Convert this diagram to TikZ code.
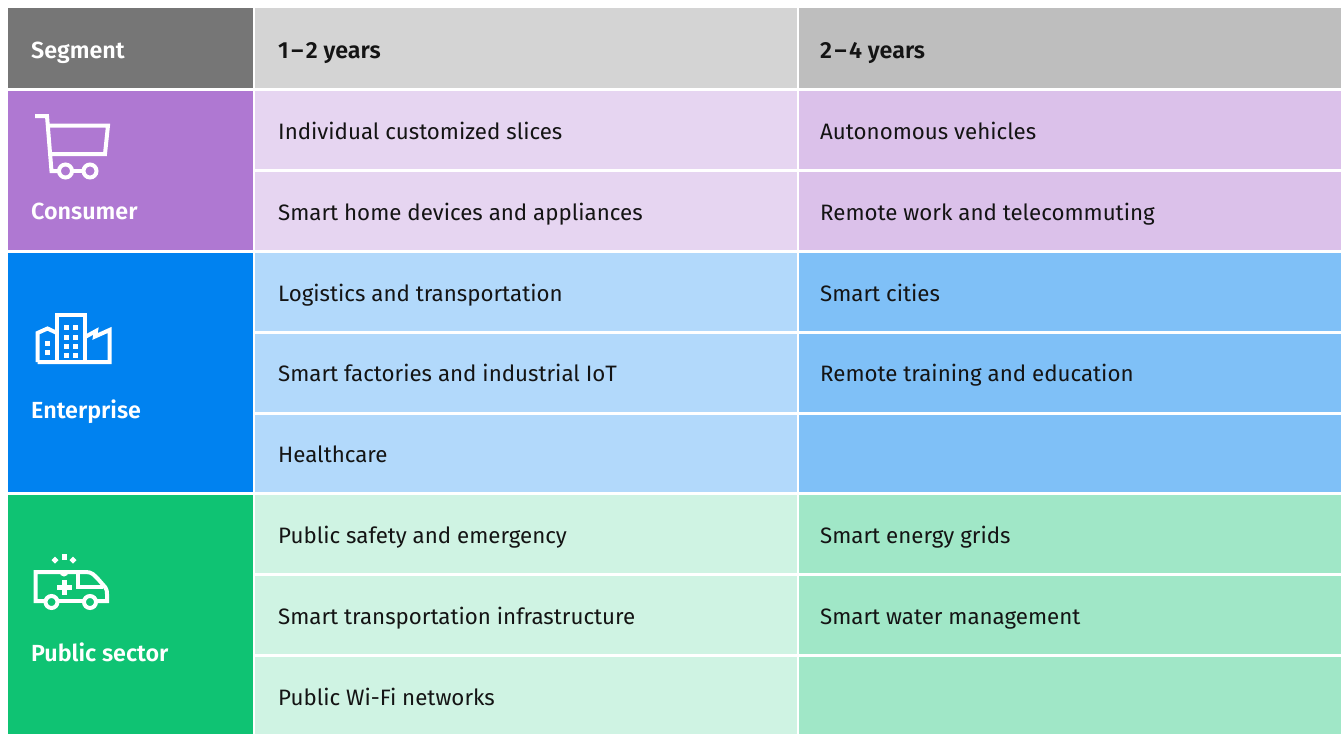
\documentclass[tikz,border=0pt]{standalone}
\usepackage{fontspec}
\setmainfont{Fira Sans}[BoldFont={Fira Sans SemiBold}]
\definecolor{hs}{HTML}{767676}\definecolor{ha}{HTML}{D4D4D4}\definecolor{hb}{HTML}{BEBEBE}
\definecolor{cs}{HTML}{AF78D2}\definecolor{ca}{HTML}{E6D5F1}\definecolor{cb}{HTML}{DBC1EA}
\definecolor{es}{HTML}{0082F0}\definecolor{ea}{HTML}{B2D9FB}\definecolor{eb}{HTML}{7FC0F7}
\definecolor{ps}{HTML}{0FC373}\definecolor{pa}{HTML}{CFF3E3}\definecolor{pb}{HTML}{A0E7C7}
\tikzset{
 x=1pt,y=-1pt,
 lab/.style={anchor=base west,inner sep=0pt,font=\fontsize{22.3}{26}\selectfont,text=black!92},
 headlab/.style={anchor=base west,inner sep=0pt,font=\fontsize{23.3}{26}\selectfont\bfseries,text=black!92},
 seglab/.style={anchor=base west,inner sep=0pt,font=\fontsize{23.3}{26}\selectfont\bfseries,text=white},
 icon/.style={draw=white,line width=4pt,line join=miter},
}
\newcommand{\cell}[6]{\fill[#6] (#2,#3) rectangle (#4,#5) coordinate (#1);}
\begin{document}
\begin{tikzpicture}
\useasboundingbox (0,0) rectangle (1341,734);
\fill[white] (0,0) rectangle (1341,734);
% header
\cell{h0}{8}{8}{253}{88}{hs}
\cell{h1}{255}{8}{797}{88}{ha}
\cell{h2}{799}{8}{1341}{88}{hb}
% segments
\cell{s1}{8}{91}{253}{250}{cs}
\cell{s2}{8}{253}{253}{492}{es}
\cell{s3}{8}{495}{253}{734}{ps}
% consumer
\cell{a1}{255}{91}{797}{169}{ca}
\cell{a2}{255}{172}{797}{250}{ca}
\cell{b1}{799}{91}{1341}{169}{cb}
\cell{b2}{799}{172}{1341}{250}{cb}
% enterprise
\cell{a3}{255}{253}{797}{331}{ea}
\cell{a4}{255}{334}{797}{412}{ea}
\cell{a5}{255}{415}{797}{492}{ea}
\cell{b3}{799}{253}{1341}{331}{eb}
\cell{b4}{799}{334}{1341}{412}{eb}
\cell{b5}{799}{415}{1341}{492}{eb}
% public
\cell{a6}{255}{495}{797}{573}{pa}
\cell{a7}{255}{576}{797}{654}{pa}
\cell{a8}{255}{657}{797}{734}{pa}
\cell{b6}{799}{495}{1341}{573}{pb}
\cell{b7}{799}{576}{1341}{654}{pb}
\cell{b8}{799}{657}{1341}{734}{pb}
% labels
\node[seglab] (t0) at (31,58) {Segment};
\node[headlab] (t1) at (278,58) {1\kern2.5pt–\kern2.5pt2 years};
\node[headlab] (t2) at (820,58) {2\kern2.5pt–\kern2.5pt4 years};
\node[seglab] (t3) at (31,219) {Consumer};
\node[seglab] (t4) at (31,418) {Enterprise};
\node[seglab] (t5) at (31,661) {Public sector};
\node[lab] (l1) at (278,139) {Individual customized slices};
\node[lab] (l2) at (278,220) {Smart home devices and appliances};
\node[lab] (l3) at (278,301) {Logistics and transportation};
\node[lab] (l4) at (278,381) {Smart factories and industrial IoT};
\node[lab] (l5) at (278,462) {Healthcare};
\node[lab] (l6) at (278,543) {Public safety and emergency};
\node[lab] (l7) at (278,624) {Smart transportation infrastructure};
\node[lab] (l8) at (278,705) {Public Wi-Fi networks};
\node[lab] (r1) at (820,139) {Autonomous vehicles};
\node[lab] (r2) at (820,220) {Remote work and telecommuting};
\node[lab] (r3) at (820,301) {Smart cities};
\node[lab] (r4) at (820,381) {Remote training and education};
\node[lab] (r6) at (820,543) {Smart energy grids};
\node[lab] (r7) at (820,624) {Smart water management};
% cart icon
\draw[icon] (35,116) -- (47,116) -- (51.5,171) -- (59,171);
\draw[icon] (47.8,125.5) -- (108,125.5) -- (105,154) -- (50,154);
\draw[icon] (65.5,171) circle (6.5);
\draw[icon] (90,171) circle (6.5);
\draw[icon] (72,171) -- (83.5,171);
% enterprise icon
\draw[icon] (57,362) -- (57,315) -- (85,315) -- (85,362);
\draw[icon] (37.5,362) -- (37.5,333) -- (47.5,328.5) -- (57,333);
\draw[icon] (37.5,362) -- (109.5,362) -- (109.5,330) -- (95,336.5) -- (96,331) -- (85,337);
\foreach \yy in {324.5,334.5,343.5,352.5}{
 \fill[white] (64,\yy) rectangle +(5,5);
 \fill[white] (73,\yy) rectangle +(5,5);
}
\fill[white] (45,341) rectangle +(5,5);
\fill[white] (45,350) rectangle +(5,5);
% ambulance icon
\draw[icon] (45,601) -- (35.5,601) -- (35.5,572) -- (86,572) .. controls (92,572) and (94,575) .. (98,579) -- (105,587) .. controls (107,590) and (107,592) .. (107,594) -- (107,601) -- (97,601);
\draw[icon] (59,601) -- (83,601);
\draw[icon] (51.5,602) circle (6);
\draw[icon] (90,602) circle (6);
\draw[icon] (77.5,573) -- (77.5,587) -- (103,587);
\fill[white] (62,580) rectangle (67,595);
\fill[white] (57,585) rectangle (72,590);
\fill[white] (59.5,572) arc[start angle=180,end angle=0,radius=4.5] -- cycle;
\fill[white] (62,554) rectangle (66.5,560);
\fill[white] (55,556.5) -- (58.5,560) -- (55,563.5) -- (51.5,560) -- cycle;
\fill[white] (73,556.5) -- (76.5,560) -- (73,563.5) -- (69.5,560) -- cycle;
\end{tikzpicture}
\end{document}
